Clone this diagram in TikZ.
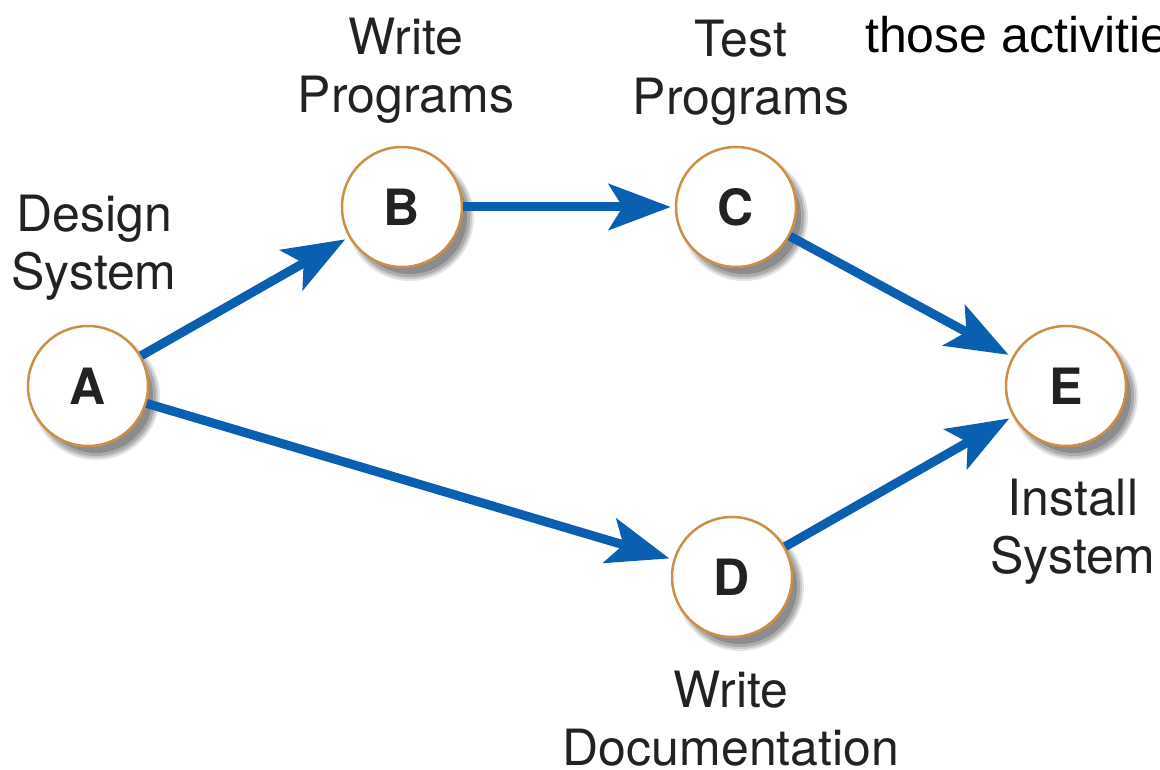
\documentclass[tikz,border=0pt]{standalone}
\usepackage{fontspec}
\setmainfont{TeX Gyre Heros}
\newfontfamily\slidefont{Liberation Sans}
\usetikzlibrary{arrows.meta,backgrounds}
\definecolor{flowblue}{HTML}{0B5FB0}
\definecolor{ringorange}{HTML}{CF8E45}
\definecolor{labelgray}{HTML}{222222}
\begin{document}
\begin{tikzpicture}[x=1pt,y=-1pt,
  event/.style={circle, draw=ringorange, line width=2.5pt, fill=white,
    minimum size=120pt, inner sep=0pt,
    font=\bfseries\fontsize{50}{50}\selectfont, text=labelgray},
  caption/.style={align=center, anchor=base,
    font=\fontsize{50}{58}\selectfont, text=labelgray},
  flow/.style={draw=flowblue, line width=9pt,
    -{Stealth[length=62pt,width=46pt,inset=14pt]}, shorten >=4pt}]
\useasboundingbox (0,0) rectangle (1160,770);

% activity events
\node[event] (A) at (88,386)  {A};
\node[event] (B) at (402,207) {B};
\node[event] (C) at (736,207) {C};
\node[event] (D) at (732,577) {D};
\node[event] (E) at (1066,386) {E};

% soft drop shadows behind the events
\begin{scope}[on background layer]
  \foreach \n in {A,B,C,D,E}{
    \foreach \r/\o in {64/0.10, 62/0.12, 60/0.15, 57/0.18}{
      \fill[black, opacity=\o] ([shift={(8,10)}]\n.center) circle (\r);
    }
  }
\end{scope}

% precedence arrows
\draw[flow] (A) -- (B);
\draw[flow] (B) -- (C);
\draw[flow] (C) -- (E);
\draw[flow] (A) -- (D);
\draw[flow] (D) -- (E);

% activity names (anchored at the baseline of the last line)
\node[caption] (capA) at (94,290)   {Design\\System};
\node[caption] (capB) at (406,113)  {Write\\Programs};
\node[caption] (capC) at (741,115)  {Test\\Programs};
\node[caption] (capD) at (731,765)  {Write\\Documentation};
\node[caption] (capE) at (1073,573) {Install\\System};

% running slide text
\node[anchor=base west, inner sep=0pt, font=\slidefont\fontsize{50}{58}\selectfont, text=black]
  (slidetext) at (865,53) {those activitie};
\end{tikzpicture}
\end{document}
